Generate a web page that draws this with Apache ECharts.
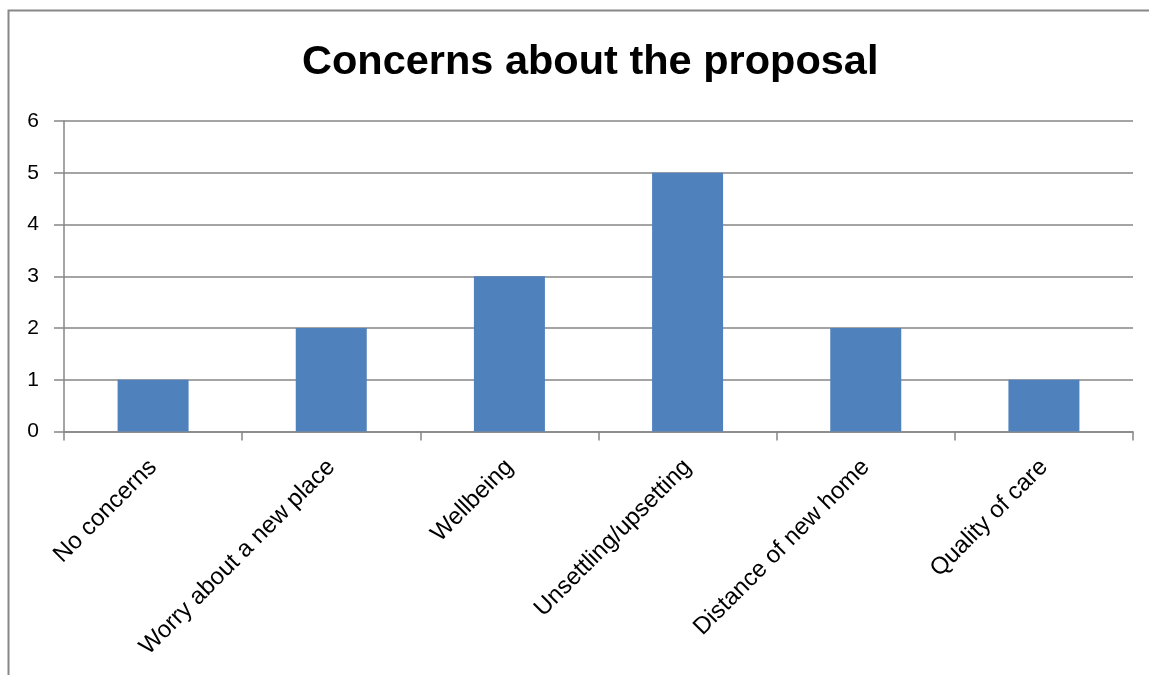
<!DOCTYPE html>
<html><head><meta charset="utf-8">
<script src="https://cdn.jsdelivr.net/npm/echarts@6/dist/echarts.min.js"></script>
<style>html,body{margin:0;padding:0;background:#fff}#c{width:1149px;height:675px}</style>
</head><body><div id="c"></div>
<script>
const categories = ["No concerns","Worry about a new place","Wellbeing","Unsettling/upsetting","Distance of new home","Quality of care"];
const values = [1,2,3,5,2,1];
const titleText = "Concerns about the proposal";
const chart = echarts.init(document.getElementById('c'));
chart.setOption({
  animation:false,
  backgroundColor:'#fff',
  title:{text:titleText,left:297,top:37,textStyle:{fontFamily:'Liberation Sans',fontWeight:'bold',fontSize:41.5,color:'#000'}},
  graphic:[{type:'rect',shape:{x:8.5,y:10.5,width:1200,height:700},style:{fill:'none',stroke:'#888',lineWidth:2}}],
  grid:{left:64,right:16,top:121,bottom:243.5,containLabel:false},
  xAxis:{type:'category',data:categories,
    axisLine:{lineStyle:{color:'#868686',width:1.5}},
    axisTick:{show:true,alignWithLabel:false,length:9,lineStyle:{color:'#868686',width:1.5}},
    axisLabel:{rotate:45,fontFamily:'Liberation Sans',fontSize:24,color:'#000',margin:32,interval:0}},
  yAxis:{type:'value',min:0,max:6,interval:1,
    axisLine:{show:true,lineStyle:{color:'#868686',width:1.5}},
    axisTick:{show:true,length:10,lineStyle:{color:'#868686',width:1.5}},
    splitLine:{lineStyle:{color:'#868686',width:1.5}},
    axisLabel:{fontFamily:'Liberation Sans',fontSize:21,color:'#000',margin:25}},
  series:[{type:'bar',data:values,barWidth:71,itemStyle:{color:'#4F81BD'}}]
});
</script></body></html>
